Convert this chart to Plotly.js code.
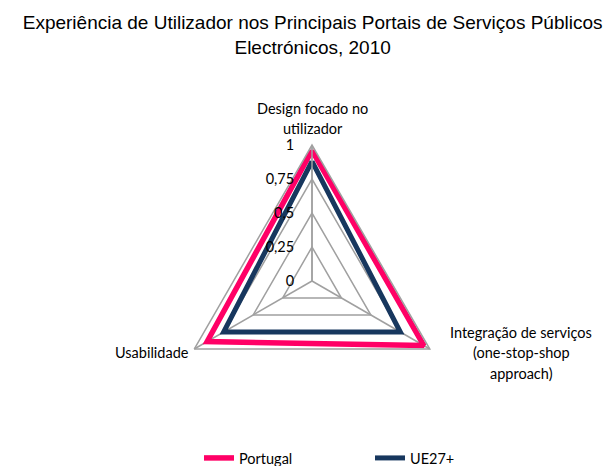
<!DOCTYPE html>
<html>
<head>
<meta charset="utf-8">
<script src="https://cdn.plot.ly/plotly-3.0.1.min.js"></script>
<style>
  html, body { margin: 0; padding: 0; background: #fff; }
  #grafico { width: 613px; height: 466px; }
</style>
</head>
<body>
<div id="grafico"></div>
<script>
// Dimensões avaliadas (ordem do Excel: começa em cima e segue no sentido horário)
const dimensoes = ['Design focado no utilizador', 'Integração de serviços (one-stop-shop approach)', 'Usabilidade'];
const rotulos = [
    ['Design focado no', 'utilizador'],
    ['Integração de serviços', '(one-stop-shop', 'approach)'],
    ['Usabilidade']
];
const portugal = [0.96, 0.95, 0.89];
const ue27 = [0.88, 0.75, 0.75];
const radialTicks = [0, 0.25, 0.5, 0.75, 1];

// fechar o polígono repetindo o primeiro ponto
function fechar(arr) {
    return arr.concat([arr[0]]);
}

const tracePortugal = {
    type: 'scatterpolar',
    r: fechar(portugal),
    theta: fechar(dimensoes),
    mode: 'lines',
    name: 'Portugal',
    line: { color: '#FF0066', width: 5.5 },
    hoverinfo: 'r+theta'
};

const traceUE = {
    type: 'scatterpolar',
    r: fechar(ue27),
    theta: fechar(dimensoes),
    mode: 'lines',
    name: 'UE27+',
    line: { color: '#17375E', width: 5 },
    hoverinfo: 'r+theta'
};

const W = 613, H = 466;
const margem = { l: 0, r: 0, t: 0, b: 25 };
const alturaArea = H - margem.t - margem.b;
// centro e raio do radar em píxeis
const cx = 312, cy = 281, raio = 136;

const corGrelha = '#A0A0A0';
const fonteEixos = { family: 'Lato, "Open Sans", sans-serif', size: 14.5, color: '#000' };

// rótulos das categorias como anotações, uma por linha (texto centrado, como no Excel)
const posRotulos = [
    { x: 313, y: 108, xanchor: 'center' },
    { x: 521, y: 332, xanchor: 'center' },
    { x: 191, y: 352, xanchor: 'right' }
];
const entrelinha = 20.5;
const annotations = [];
rotulos.forEach((linhas, i) => {
    linhas.forEach((t, j) => {
        annotations.push({
            text: t,
            xref: 'paper', yref: 'paper',
            x: posRotulos[i].x / W,
            y: (alturaArea - (posRotulos[i].y + j * entrelinha - margem.t)) / alturaArea,
            xanchor: posRotulos[i].xanchor,
            yanchor: 'middle',
            showarrow: false,
            font: fonteEixos
        });
    });
});

const yBase = alturaArea - (cy - margem.t);

const layout = {
    width: W,
    height: H,
    separators: ', ',
    paper_bgcolor: '#fff',
    margin: margem,
    title: {
        text: 'Experiência de Utilizador nos Principais Portais de Serviços Públicos<br>Electrónicos, 2010',
        font: { family: '"Liberation Sans", Arial, sans-serif', size: 19, color: '#000' },
        x: 0.51,
        xanchor: 'center',
        y: 1 - 29 / H,
        yanchor: 'middle',
        yref: 'container'
    },
    polar: {
        domain: {
            x: [(cx - raio) / W, (cx + raio) / W],
            y: [(yBase - raio) / alturaArea, (yBase + raio) / alturaArea]
        },
        gridshape: 'linear',
        bgcolor: '#fff',
        radialaxis: {
            range: [0, 1],
            tickvals: radialTicks,
            angle: 90,
            side: 'counterclockwise',
            tickangle: 90,
            showline: true,
            linecolor: corGrelha,
            linewidth: 1.5,
            gridcolor: corGrelha,
            gridwidth: 1.5,
            ticks: 'outside',
            ticklen: 12,
            tickcolor: 'rgba(0,0,0,0)',
            tickfont: fonteEixos
        },
        angularaxis: {
            direction: 'clockwise',
            rotation: 90,
            linecolor: corGrelha,
            linewidth: 1.5,
            gridcolor: corGrelha,
            gridwidth: 1.5,
            ticks: '',
            showticklabels: false
        }
    },
    annotations: annotations,
    showlegend: true,
    legend: {
        orientation: 'h',
        x: 0.6036,
        xanchor: 'center',
        xref: 'container',
        y: 8 / H,
        yanchor: 'middle',
        yref: 'container',
        font: fonteEixos,
        entrywidth: 126
    }
};

Plotly.newPlot('grafico', [tracePortugal, traceUE], layout, { displayModeBar: false, staticPlot: true });
</script>
</body>
</html>
